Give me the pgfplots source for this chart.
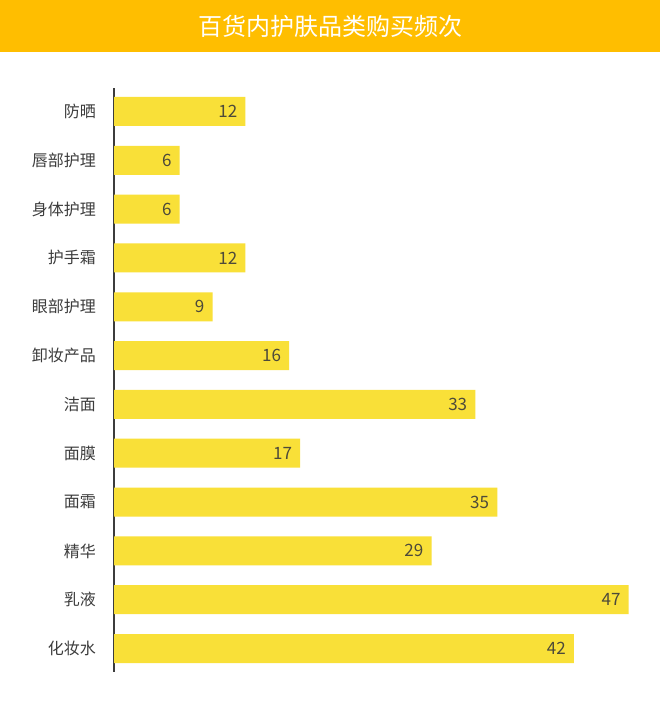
\documentclass[border=0pt]{standalone}
\usepackage{fontspec}
\setmainfont{Noto Sans CJK SC}
\usepackage{pgfplots}
\pgfplotsset{compat=1.18}
\usepackage{pgfplotstable}

\definecolor{titlebar}{HTML}{FFBE00}
\definecolor{baryellow}{HTML}{F9E038}
\definecolor{labelgray}{HTML}{3C3C3C}
\definecolor{valuegray}{HTML}{4D4A3A}

% purchase frequency per category, top to bottom
\pgfplotstableread{
idx value
0  12
1  6
2  6
3  12
4  9
5  16
6  33
7  17
8  35
9  29
10 47
11 42
}\freqdata

\begin{document}
\begin{tikzpicture}[x=1pt,y=1pt]
  % canvas and title bar
  \fill[white] (0,0) rectangle (660,720);
  \fill[titlebar] (0,668) rectangle (660,720);
  \node[text=white, font=\fontsize{24pt}{28pt}\selectfont] at (330,694) {百货内护肤品类购买频次};

  \begin{axis}[
    at={(114pt,48pt)}, anchor=south west,
    scale only axis,
    width=525.6pt, height=584pt,
    xbar, bar width=29pt,
    xmin=0, xmax=48,
    ymin=-0.48, ymax=11.48,
    y dir=reverse,
    axis x line=none,
    axis y line*=left,
    y axis line style={line width=1.6pt, color=labelgray},
    ytick=data,
    yticklabels={防晒,唇部护理,身体护理,护手霜,眼部护理,卸妆产品,洁面,面膜,面霜,精华,乳液,化妆水},
    major tick length=0pt,
    y tick label style={font=\fontsize{16pt}{19pt}\selectfont, text=labelgray, inner sep=0pt, xshift=-18pt},
    /pgf/number format/assume math mode=true,
    nodes near coords,
    every node near coord/.append style={anchor=east, inner sep=0pt, xshift=-8pt,
      font=\fontsize{17pt}{20pt}\selectfont, text=valuegray},
  ]
    \addplot[fill=baryellow, draw=none] table[x=value, y=idx] {\freqdata};
  \end{axis}
\end{tikzpicture}
\end{document}
